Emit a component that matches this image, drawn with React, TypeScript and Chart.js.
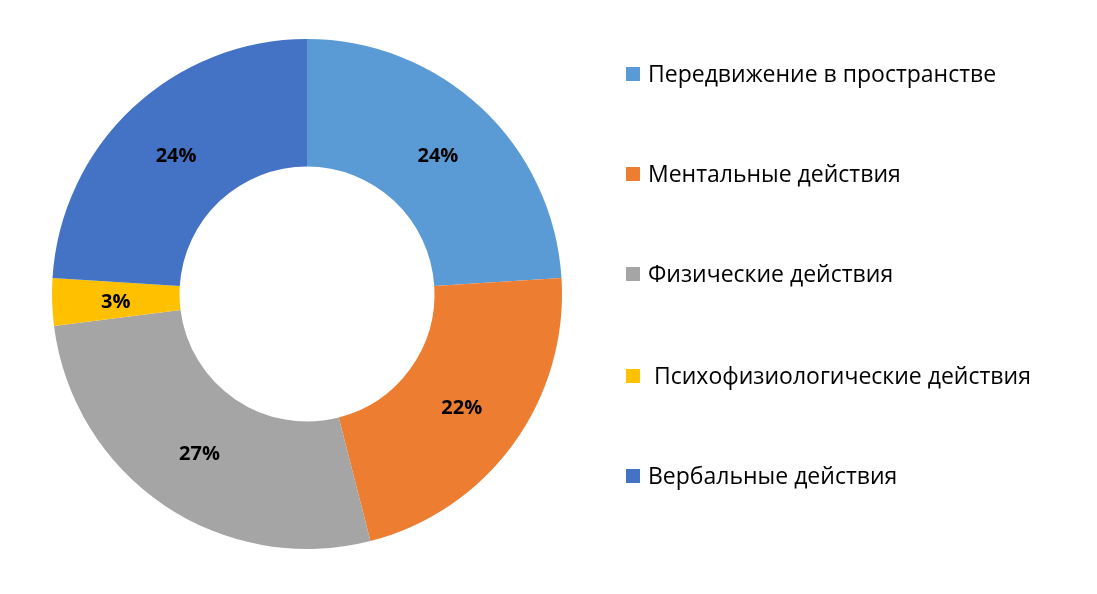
import React, { useEffect, useRef } from "react";
import { Chart, registerables } from "chart.js";

Chart.register(...registerables);

const categories = [
  "Передвижение в пространстве",
  "Ментальные действия",
  "Физические действия",
  " Психофизиологические действия",
  "Вербальные действия",
];
const values = [24, 22, 27, 3, 24];
const colors = ["#5B9BD5", "#ED7D31", "#A5A5A5", "#FFC000", "#4472C4"];

const W = 1097;
const H = 594;

const labelPlugin = {
  id: "sliceLabels",
  afterDatasetsDraw(chart: any) {
    const ctx = chart.ctx;
    const meta = chart.getDatasetMeta(0);
    ctx.save();
    ctx.font = "bold 20px 'Open Sans', 'Noto Sans', sans-serif";
    ctx.fillStyle = "#000";
    ctx.textAlign = "center";
    ctx.textBaseline = "middle";
    meta.data.forEach((el: any, i: number) => {
      const p = el.tooltipPosition();
      ctx.fillText(values[i] + "%", p.x, p.y + 2);
    });
    ctx.restore();
  },
};

export default function App() {
  const ref = useRef<HTMLCanvasElement | null>(null);
  useEffect(() => {
    if (!ref.current) return;
    const chart = new Chart(ref.current, {
      type: "doughnut",
      data: {
        labels: categories,
        datasets: [
          {
            data: values,
            backgroundColor: colors,
            borderWidth: 0,
          },
        ],
      },
      options: {
        animation: false,
        responsive: false,
        cutout: "50%",
        layout: { padding: { left: 52, right: 535, top: 39, bottom: 45 } },
        plugins: {
          legend: { display: false },
          tooltip: { enabled: false },
        },
      },
      plugins: [labelPlugin],
    });
    return () => chart.destroy();
  }, []);

  const legendTops = [74, 174, 274, 376, 476];
  return (
    <div style={{ position: "fixed", left: 0, top: 0, width: W, height: H, background: "#fff" }}>
      <canvas ref={ref} width={W} height={H} style={{ position: "absolute", left: 0, top: 0 }} />
      {categories.map((c, i) => (
        <div
          key={i}
          style={{
            position: "absolute",
            left: 626,
            top: legendTops[i] - 16,
            height: 30,
            display: "flex",
            alignItems: "center",
            whiteSpace: "pre",
            fontFamily: "'Open Sans', 'Noto Sans', sans-serif",
            fontSize: 23,
            color: "#000",
          }}
        >
          <span style={{ display: "inline-block", width: 14, height: 14, background: colors[i], marginRight: 8, marginTop: 1 }} />
          <span>{c}</span>
        </div>
      ))}
    </div>
  );
}
